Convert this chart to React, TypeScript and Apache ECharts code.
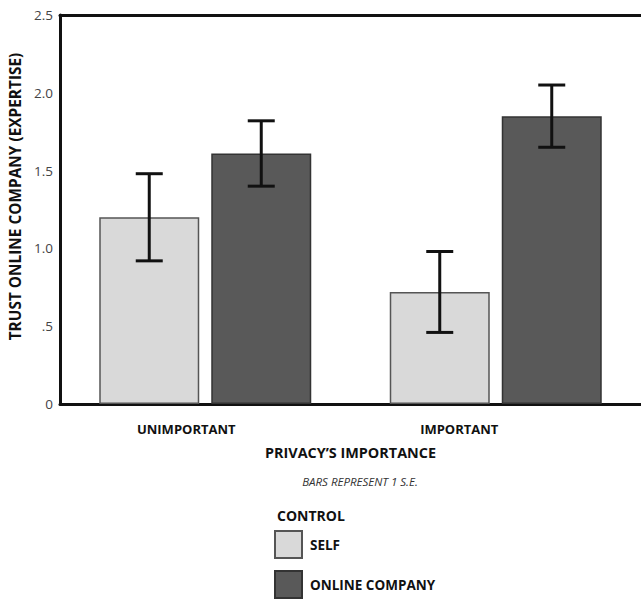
import React, { useEffect, useRef } from "react";
import * as echarts from "echarts";

const categories = ["UNIMPORTANT", "IMPORTANT"];
const seriesNames = ["SELF", "ONLINE COMPANY"];
const selfMeans = [1.2, 0.72];
const selfSE = [0.28, 0.26];
const onlineMeans = [1.61, 1.85];
const onlineSE = [0.21, 0.2];
const yTickLabels = ["0", ".5", "1.0", "1.5", "2.0", "2.5"];

const FONT = "'Open Sans', 'DejaVu Sans', sans-serif";
const BAR_W = 100;
const BAR_GAP = 12;

function errorSeries(means: number[], se: number[], offset: number) {
  return {
    type: "custom",
    z: 5,
    silent: true,
    data: means.map((m, i) => [i, m - se[i], m + se[i]]),
    renderItem: (params: any, api: any) => {
      const cx = api.coord([api.value(0), 0])[0] + offset;
      const yLo = api.coord([api.value(0), api.value(1)])[1];
      const yHi = api.coord([api.value(0), api.value(2)])[1];
      const half = 13.5;
      const style = { stroke: "#111", lineWidth: 3 };
      return {
        type: "group",
        children: [
          { type: "line", shape: { x1: cx, y1: yLo, x2: cx, y2: yHi }, style },
          { type: "line", shape: { x1: cx - half, y1: yHi, x2: cx + half, y2: yHi }, style },
          { type: "line", shape: { x1: cx - half, y1: yLo, x2: cx + half, y2: yLo }, style },
        ],
      };
    },
  };
}

const legendText = { fontSize: 13.5, fontWeight: "bold", color: "#111", fontFamily: FONT, padding: [0, 0, 0, 3] };

export default function App() {
  const ref = useRef<HTMLDivElement>(null);
  useEffect(() => {
    if (!ref.current) return;
    const chart = echarts.init(ref.current, null, { renderer: "svg" });
    const off = (BAR_W + BAR_GAP) / 2;
    chart.setOption({
      animation: false,
      backgroundColor: "#ffffff",
      textStyle: { fontFamily: FONT },
      grid: { left: 60, right: -8, top: 15, bottom: 195, containLabel: false },
      title: [
        {
          text: "BARS REPRESENT 1 S.E.",
          left: 355,
          top: 470,
          textAlign: "center",
          textStyle: { fontSize: 11.5, fontStyle: "italic", fontWeight: "normal", color: "#333", fontFamily: FONT },
        },
        {
          text: "CONTROL",
          left: 272,
          top: 503,
          textStyle: { fontSize: 14, fontWeight: "bold", color: "#111", fontFamily: FONT },
        },
      ],
      legend: [
        {
          data: [seriesNames[0]],
          left: 269,
          top: 525,
          itemWidth: 27,
          itemHeight: 27,
          icon: "rect",
          textStyle: legendText,
        },
        {
          data: [seriesNames[1]],
          left: 269,
          top: 565,
          itemWidth: 27,
          itemHeight: 27,
          icon: "rect",
          textStyle: legendText,
        },
      ],
      xAxis: [
        {
          type: "category",
          position: "bottom",
          data: categories,
          axisLine: { show: true, lineStyle: { color: "#111", width: 3 } },
          axisTick: { show: false },
          axisLabel: {
            margin: 18,
            formatter: (v: string, i: number) => (i === 0 ? `{u|${v}}` : `{i|${v}}`),
            rich: {
              u: { fontSize: 13, fontWeight: "bold", color: "#111", fontFamily: FONT, padding: [0, 38, 0, 0] },
              i: { fontSize: 13, fontWeight: "bold", color: "#111", fontFamily: FONT, padding: [0, 73, 0, 0] },
            },
          },
          name: "PRIVACY\u2019S IMPORTANCE",
          nameLocation: "middle",
          nameGap: 41,
          nameTextStyle: { fontSize: 14.4, fontWeight: "bold", color: "#111", fontFamily: FONT },
        },
        {
          type: "category",
          position: "top",
          data: categories,
          axisLine: { show: true, lineStyle: { color: "#111", width: 3 } },
          axisTick: { show: false },
          axisLabel: { show: false },
        },
      ],
      yAxis: {
        type: "value",
        min: 0,
        max: 2.5,
        interval: 0.5,
        axisLine: { show: true, lineStyle: { color: "#111", width: 3 } },
        axisTick: { show: false },
        splitLine: { show: false },
        axisLabel: {
          margin: 7,
          fontSize: 13.5,
          color: "#444",
          fontFamily: FONT,
          padding: [0, 0, 5, 0],
          formatter: (v: number) => yTickLabels[Math.round(v / 0.5)],
        },
        name: "TRUST ONLINE COMPANY (EXPERTISE)",
        nameLocation: "middle",
        nameGap: 29,
        nameTextStyle: { fontSize: 15.4, fontWeight: "bold", color: "#111", fontFamily: FONT, padding: [0, 0, 0, 26] },
      },
      series: [
        {
          name: seriesNames[0],
          type: "bar",
          data: selfMeans,
          barWidth: BAR_W,
          barGap: `${(BAR_GAP / BAR_W) * 100}%`,
          itemStyle: { color: "#d9d9d9", borderColor: "#555", borderWidth: 1.5 },
        },
        {
          name: seriesNames[1],
          type: "bar",
          data: onlineMeans,
          barWidth: BAR_W,
          barGap: `${(BAR_GAP / BAR_W) * 100}%`,
          itemStyle: { color: "#595959", borderColor: "#333", borderWidth: 1.5 },
        },
        errorSeries(selfMeans, selfSE, -off),
        errorSeries(onlineMeans, onlineSE, off),
      ],
    });
    return () => chart.dispose();
  }, []);
  return (
    <div
      ref={ref}
      style={{ position: "absolute", left: 0, top: 0, width: 641, height: 599 }}
    />
  );
}
